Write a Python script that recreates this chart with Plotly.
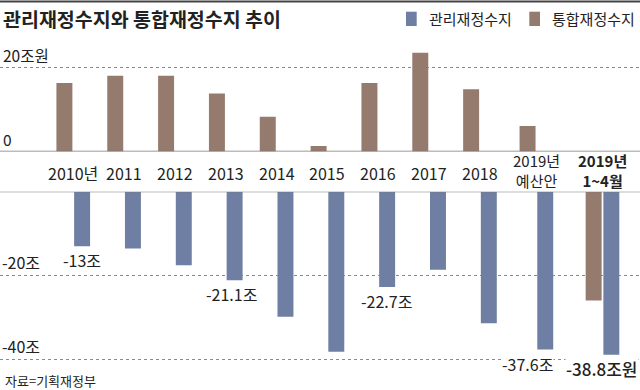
import plotly.graph_objects as go

# ---------------- data ----------------
categories = ["2010년", "2011", "2012", "2013", "2014", "2015", "2016", "2017", "2018",
              "2019년<br>예산안", "2019년<br>1~4월"]
managed_balance = [-13.0, -13.5, -17.5, -21.1, -29.8, -38.1, -22.7, -18.6, -31.3, -37.6, -38.8]
integrated_balance = [16.4, 18.1, 18.1, 13.9, 8.3, 1.3, 16.4, 23.6, 14.9, 6.1, -25.9]
value_labels = ["-13조", "", "", "-21.1조", "", "", "-22.7조", "", "", "-37.6조", "-38.8조원"]
pos_tick_values = [20, 0]
pos_tick_labels = ["20조원", "0"]
neg_tick_values = [-20, -40]
neg_tick_labels = ["-20조", "-40조"]
series_names = ["관리재정수지", "통합재정수지"]
title_text = "관리재정수지와 통합재정수지 추이"
source_text = "자료=기획재정부"

# ---------------- layout constants ----------------
W, H = 640, 390
FONT = "Noto Sans CJK KR"
BLUE = "#6f7fa3"
BROWN = "#957a6e"
TEXT = "#222222"
# slot positions of the category groups along the x axis (layout spacing)
slot_x = [0, 1, 2, 3, 4, 5, 6, 7, 8, 9.11, 10.41]
label_dx = [9, 0, 0, 6, 0, 0, 8, 0, 0, -9, 0]  # px nudges of value labels
PX_PER_SLOT = 50.84
X0_PX = 73.2
x_range = [-X0_PX / PX_PER_SLOT, (W - X0_PX) / PX_PER_SLOT]

TOP_ZERO_PX = 151.5
TOP_SCALE = 4.18
BOT_ZERO_PX = 191.7
BOT_SCALE = 4.2


def py(px):
    return 1 - px / H


def pxx(px):
    return px / W


pos_integrated = [v if v >= 0 else None for v in integrated_balance]
neg_integrated = [v if v < 0 else None for v in integrated_balance]

fig = go.Figure()
BAR_W = 0.314
fig.add_trace(go.Bar(x=slot_x, y=pos_integrated, width=BAR_W, offset=-0.33,
                     marker=dict(color=BROWN, line=dict(width=0)),
                     xaxis="x", yaxis="y", showlegend=False, name=series_names[1]))
fig.add_trace(go.Bar(x=slot_x, y=neg_integrated, width=BAR_W, offset=-0.33,
                     marker=dict(color=BROWN, line=dict(width=0)),
                     xaxis="x", yaxis="y2", showlegend=False, name=series_names[1]))
fig.add_trace(go.Bar(x=slot_x, y=managed_balance, width=BAR_W, offset=0.018,
                     marker=dict(color=BLUE, line=dict(width=0)),
                     xaxis="x", yaxis="y2", showlegend=False, name=series_names[0]))

annotations = []
# title
annotations.append(dict(text=f"<b>{title_text}</b>", xref="paper", yref="paper",
                        x=pxx(0.5), y=py(18), xanchor="left", yanchor="middle",
                        showarrow=False, font=dict(size=19.5, color=TEXT, family=FONT)))
# legend
legend_items = [(406, 426.5, BLUE, series_names[0]), (529.3, 549.5, BROWN, series_names[1])]
shapes = []
for sx, tx, col, name in legend_items:
    shapes.append(dict(type="rect", xref="paper", yref="paper",
                       x0=pxx(sx), x1=pxx(sx + 10.7), y0=py(26), y1=py(11.7),
                       fillcolor=col, line=dict(width=0)))
    annotations.append(dict(text=name, xref="paper", yref="paper", x=pxx(tx), y=py(18.5),
                            xanchor="left", yanchor="middle", showarrow=False,
                            font=dict(size=15, color=TEXT, family=FONT)))
# axis value labels
for v, t in zip(pos_tick_values, pos_tick_labels):
    annotations.append(dict(text=t, xref="paper", yref="y", x=0, y=v, xanchor="left",
                            yanchor="bottom", xshift=1, yshift=0, showarrow=False,
                            font=dict(size=15.5, color=TEXT, family=FONT)))
for v, t in zip(neg_tick_values, neg_tick_labels):
    annotations.append(dict(text=t, xref="paper", yref="y2", x=0, y=v, xanchor="left",
                            yanchor="bottom", xshift=0, yshift=0, showarrow=False,
                            font=dict(size=16, color=TEXT, family=FONT)))
# category labels
for i, (xv, c) in enumerate(zip(slot_x, categories)):
    last = i == len(categories) - 1
    two_line = "<br>" in c
    annotations.append(dict(text=f"<b>{c}</b>" if last else c, xref="x", yref="paper",
                            x=xv, y=py(170 if two_line else 172.5), xanchor="center",
                            yanchor="middle", showarrow=False, borderpad=0,
                            font=dict(size=15 if two_line else 16, color=TEXT, family=FONT)))
# value labels
for i, (xv, v, t) in enumerate(zip(slot_x, managed_balance, value_labels)):
    if not t:
        continue
    last = i == len(value_labels) - 1
    annotations.append(dict(text=t, xref="x", yref="y2", x=xv, y=v, xanchor="center",
                            yanchor="middle", xshift=label_dx[i], yshift=-14,
                            showarrow=False, bgcolor="white", borderpad=0,
                            font=dict(size=17 if last else 16, color=TEXT, family=FONT,
                                      weight=500 if last else 400)))
# source
annotations.append(dict(text=source_text, xref="paper", yref="paper", x=pxx(3),
                        y=py(380), xanchor="left", yanchor="middle", showarrow=False,
                        font=dict(size=13, color=TEXT, family=FONT)))

# baselines and top rule
shapes.append(dict(type="line", xref="paper", yref="y", x0=0, x1=1, y0=0, y1=0,
                   line=dict(color="#7a7a7a", width=1.3)))
shapes.append(dict(type="line", xref="paper", yref="y2", x0=0, x1=1, y0=0, y1=0,
                   line=dict(color="#7a7a7a", width=1.3)))
shapes.append(dict(type="line", xref="paper", yref="paper", x0=0, x1=1, y0=py(1.5),
                   y1=py(1.5), line=dict(color="#444444", width=2)))

fig.update_layout(
    width=W, height=H, autosize=False,
    margin=dict(l=0, r=0, t=0, b=0, pad=0),
    paper_bgcolor="white", plot_bgcolor="rgba(0,0,0,0)",
    font=dict(family=FONT, color=TEXT),
    barmode="overlay", showlegend=False,
    xaxis=dict(range=x_range, showgrid=False, zeroline=False, showticklabels=False,
               showline=False, ticks="", fixedrange=True),
    yaxis=dict(domain=[py(TOP_ZERO_PX), 1], range=[0, TOP_ZERO_PX / TOP_SCALE],
               tickvals=[20], showticklabels=False, showgrid=True, gridcolor="#8a8a8a",
               griddash="dot", gridwidth=1, zeroline=False, showline=False, ticks=""),
    yaxis2=dict(domain=[0, py(BOT_ZERO_PX)], range=[-(H - BOT_ZERO_PX) / BOT_SCALE, 0],
                tickvals=neg_tick_values, showticklabels=False, showgrid=True,
                gridcolor="#8a8a8a", griddash="dot", gridwidth=1, zeroline=False,
                showline=False, ticks=""),
    annotations=annotations,
    shapes=shapes,
)

fig.write_html("out.html", config={"displayModeBar": False},
               post_script="document.body.style.margin='0';document.body.style.overflow='hidden';")
